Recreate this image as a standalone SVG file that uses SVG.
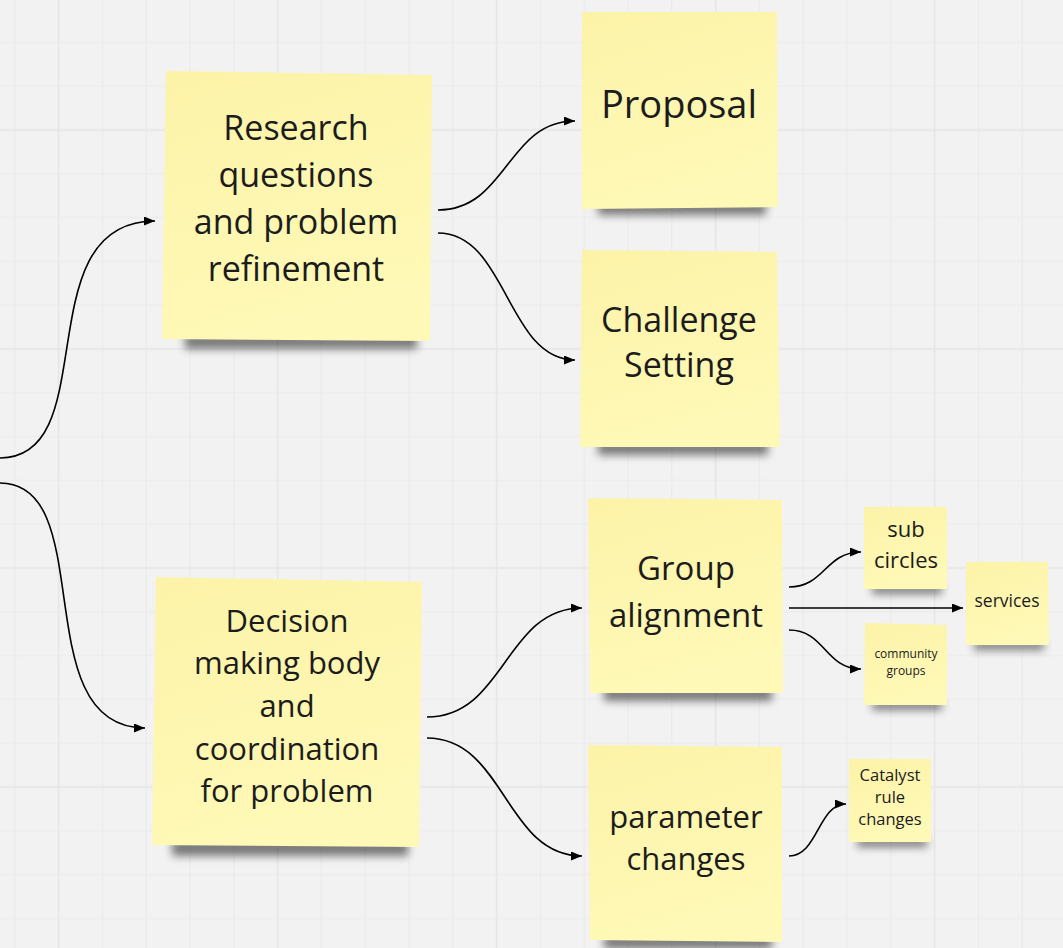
<svg xmlns="http://www.w3.org/2000/svg" width="1063" height="948" viewBox="0 0 1063 948">
<defs>
<style>
.note{fill:url(#ng);}
.sh{fill:#000;opacity:.5;filter:url(#blur);}
.t{font-family:"Open Sans","Noto Sans","DejaVu Sans",sans-serif;fill:#1c1c1c;text-anchor:middle;}
.c{fill:none;stroke:#000;stroke-width:1.6;marker-end:url(#ah);}
.mn{stroke:#eaeaea;stroke-width:1;}
.mj{stroke:#e4e4e4;stroke-width:1.3;}
</style>
<linearGradient id="ng" x1="0" y1="0" x2="0.3" y2="1">
<stop offset="0" stop-color="#fcf3a8"/>
<stop offset="1" stop-color="#fff9b7"/>
</linearGradient>
<filter id="blur" x="-20%" y="-100%" width="140%" height="300%">
<feGaussianBlur stdDeviation="4.5"/>
</filter>
<marker id="ah" viewBox="0 0 11 9" refX="11" refY="4.5" markerWidth="11" markerHeight="9" markerUnits="userSpaceOnUse" orient="auto">
<path d="M0,0 L11,4.5 L0,9 z" fill="#000"/>
</marker>
<pattern id="grid" x="-50.8" y="20.5" width="219" height="219" patternUnits="userSpaceOnUse">
<rect width="219" height="219" fill="#f2f2f2"/>
<path class="mn" d="M21.9,0V219M65.7,0V219M153.3,0V219M197.1,0V219M0,21.9H219M0,65.7H219M0,153.3H219M0,197.1H219"/>
<path class="mj" d="M109.5,0V219M0,109.5H219"/>
</pattern>
</defs>
<rect width="1063" height="948" fill="url(#grid)"/>

<g id="connectors">
<path class="c" d="M0,458 C105,458 25,221 155,221"/>
<path class="c" d="M0,483 C100,483 25,728 145,728"/>
<path class="c" d="M438,210 C507,210 507,121 575,121"/>
<path class="c" d="M438,233 C507,233 507,360 575,360"/>
<path class="c" d="M427,717 C505,717 505,608 582,608"/>
<path class="c" d="M427,738 C505,738 505,856 582,856"/>
<path class="c" d="M789,587 C825,587 825,552 861,552"/>
<path class="c" d="M789,608 L963,608"/>
<path class="c" d="M789,630 C825,630 825,669 861,669"/>
<path class="c" d="M789,856 C818,856 818,804 846,804"/>
</g>

<g id="research">
<rect class="sh" x="185" y="334" width="232" height="15"/>
<polygon class="note" points="166,71 432,75 430,341 162,339"/>
<text class="t" font-size="34" x="296"><tspan x="296" y="140">Research</tspan><tspan x="296" y="187">questions</tspan><tspan x="296" y="234">and problem</tspan><tspan x="296" y="281">refinement</tspan></text>
</g>

<g id="proposal">
<rect class="sh" x="598" y="201" width="168" height="14"/>
<polygon class="note" points="582,12 777,12 778,207 582,209"/>
<text class="t" font-size="38" x="679" y="118">Proposal</text>
</g>

<g id="challenge">
<rect class="sh" x="598" y="441" width="170" height="14"/>
<polygon class="note" points="582,250 777,252 780,447 580,447"/>
<text class="t" font-size="34" x="679"><tspan x="679" y="332">Challenge</tspan><tspan x="679" y="377">Setting</tspan></text>
</g>

<g id="decision">
<rect class="sh" x="172" y="840" width="236" height="16"/>
<polygon class="note" points="156,577 422,582 419,847 152,845"/>
<text class="t" font-size="31" x="287"><tspan x="287" y="632">Decision</tspan><tspan x="287" y="674">making body</tspan><tspan x="287" y="717">and</tspan><tspan x="287" y="760">coordination</tspan><tspan x="287" y="802">for problem</tspan></text>
</g>

<g id="group-alignment">
<rect class="sh" x="604" y="687" width="168" height="14"/>
<polygon class="note" points="588,498 782,500 783,693 590,693"/>
<text class="t" font-size="33" x="686"><tspan x="686" y="580">Group</tspan><tspan x="686" y="627">alignment</tspan></text>
</g>

<g id="parameter-changes">
<rect class="sh" x="604" y="935" width="168" height="14"/>
<polygon class="note" points="588,745 782,747 782,942 590,940"/>
<text class="t" font-size="31" x="686"><tspan x="686" y="828">parameter</tspan><tspan x="686" y="870">changes</tspan></text>
</g>

<g id="sub-circles">
<rect class="sh" x="872" y="585" width="70" height="9"/>
<polygon class="note" points="864,507 947,507 947,589 864,589"/>
<text class="t" font-size="22" x="906"><tspan x="906" y="537">sub</tspan><tspan x="906" y="568">circles</tspan></text>
</g>

<g id="services">
<rect class="sh" x="974" y="641" width="70" height="9"/>
<polygon class="note" points="966,562 1048,562 1049,645 966,645"/>
<text class="t" font-size="17.5" x="1007" y="607">services</text>
</g>

<g id="community-groups">
<rect class="sh" x="872" y="701" width="70" height="9"/>
<polygon class="note" points="865,623 947,625 947,705 864,705"/>
<text class="t" font-size="12" x="906"><tspan x="906" y="658">community</tspan><tspan x="906" y="675">groups</tspan></text>
</g>

<g id="catalyst">
<rect class="sh" x="857" y="838" width="70" height="9"/>
<polygon class="note" points="849,759 931,759 931,842 849,842"/>
<text class="t" font-size="16.5" x="890"><tspan x="890" y="781">Catalyst</tspan><tspan x="890" y="803">rule</tspan><tspan x="890" y="825">changes</tspan></text>
</g>
</svg>
